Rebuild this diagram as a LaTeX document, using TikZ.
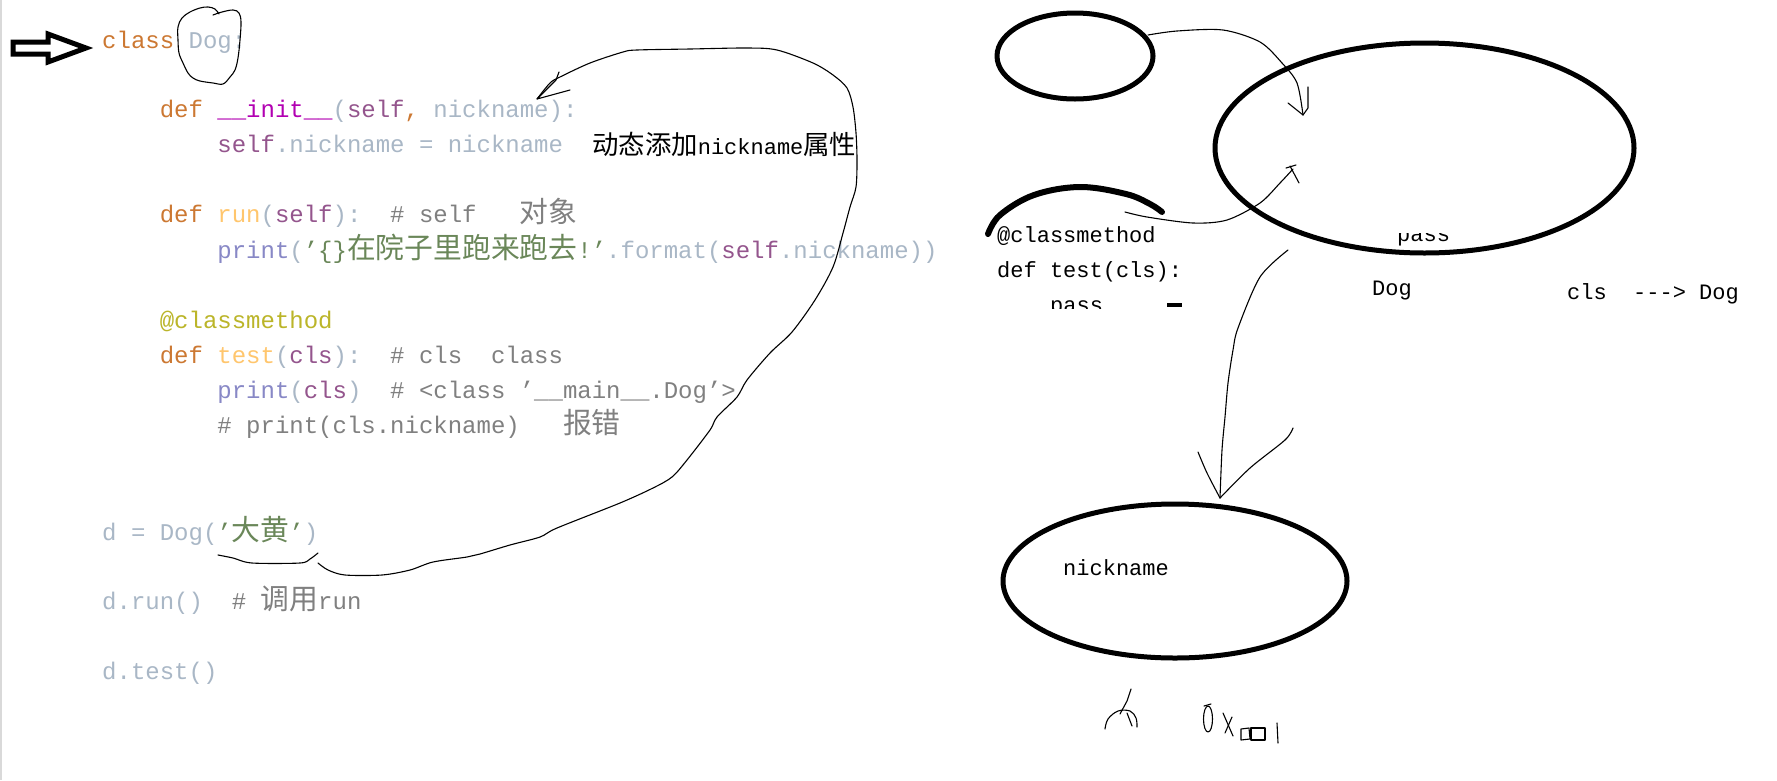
\documentclass[tikz,border=0pt]{standalone}
\usepackage{fontspec}
\usetikzlibrary{shapes.geometric}
\newfontfamily\monof[Ligatures=TeXOff]{Liberation Mono}
\newfontfamily\cjkf[Scale=1.2]{Noto Sans CJK SC}
\newcommand\zh[1]{{\cjkf #1}}
\definecolor{ckw}{HTML}{CC7832}
\definecolor{cfn}{HTML}{FFC66D}
\definecolor{cself}{HTML}{94558D}
\definecolor{cstr}{HTML}{6A8759}
\definecolor{ccom}{HTML}{808080}
\definecolor{cdec}{HTML}{BBB529}
\definecolor{cbi}{HTML}{8888C6}
\definecolor{cmag}{HTML}{B200B2}
\definecolor{ctxt}{HTML}{A9B7C6}
\newcommand\ckw[1]{\textcolor{ckw}{#1}}
\newcommand\cfn[1]{\textcolor{cfn}{#1}}
\newcommand\cself[1]{\textcolor{cself}{#1}}
\newcommand\cstr[1]{\textcolor{cstr}{#1}}
\newcommand\ccom[1]{\textcolor{ccom}{#1}}
\newcommand\cdec[1]{\textcolor{cdec}{#1}}
\newcommand\cbi[1]{\textcolor{cbi}{#1}}
\newcommand\cmag[1]{\textcolor{cmag}{#1}}
\begin{document}
\begin{tikzpicture}[x=1pt,y=-1pt,
  code/.style={anchor=base west, inner sep=0pt, font=\monof\fontsize{24}{28}\selectfont, text=ctxt},
  note/.style={anchor=base west, inner sep=0pt, font=\monof\fontsize{22}{26}\selectfont, text=black},
  oval/.style={draw, ellipse, line width=5pt, inner sep=0pt},
  pen/.style={line width=1.1pt, line cap=round, line join=round},
  hollow/.style={draw, line width=5pt, line join=miter, fill=white}]
\useasboundingbox (0,0) rectangle (1777,780);
\fill[white] (0,0) rectangle (1777,780);
\draw[black!15, line width=1.5pt] (0.75,0) -- (0.75,780);

% hollow arrow
\draw[hollow] (13,42) -- (48,42) -- (48,34) -- (86,48) -- (48,62) -- (48,54) -- (13,54) -- cycle;

% code
\node[code] (l1) at (102,48) {\ckw{class} Dog:};
\node[code] (l2) at (159.6,117) {\ckw{def} \cmag{\_\_init\_\_}(\cself{self}\ckw{,} nickname):};
\node[code] (l3) at (217.2,152) {\cself{self}.nickname = nickname};
\node[code] (l4) at (159.6,222) {\ckw{def} \cfn{run}(\cself{self}):~~\ccom{\#~self~~~\zh{对象}}};
\node[code] (l5) at (217.2,258) {\cbi{print}(\cstr{’\{\}\zh{在院子里跑来跑去}!’}.format(\cself{self}.nickname))};
\node[code] (l6) at (159.6,328) {\cdec{@classmethod}};
\node[code] (l7) at (159.6,363) {\ckw{def} \cfn{test}(\cself{cls}):~~\ccom{\#~cls~~class}};
\node[code] (l8) at (217.2,398) {\cbi{print}(\cself{cls})~~\ccom{\#~<class~’\_\_main\_\_.Dog’>}};
\node[code] (l9) at (217.2,433) {\ccom{\#~print(cls.nickname)~~~\zh{报错}}};
\node[code] (l10) at (102,540) {d = Dog(\cstr{’\zh{大黄}’})};
\node[code] (l11) at (102,609) {d.run()~~\ccom{\#~\zh{调用}run}};
\node[code] (l12) at (102,679) {d.test()};

\node[note] (ann) at (592,154) {\zh{动态添加}nickname\zh{属性}};

% blob around Dog
\draw[pen] plot[smooth, tension=0.6] coordinates {(213,15) (222,12) (233,10) (239,13) (241,22) (240,40) (238,58) (235,70) (230,77) (223,84) (213,83) (200,81) (193,78) (188,73) (183,63) (179,53) (178,40) (178,27) (182,18) (190,12) (200,8) (208,7) (215,9) (219,14)};

% underline under 大黄
\draw[pen] plot[smooth, tension=0.5] coordinates {(218,555) (233,558) (252,563) (300,563) (310,559) (318,553)};

% big curve back to nickname
\coordinate (bstart) at (318,563);
\coordinate (btip) at (537,99);
\draw[pen] plot[smooth, tension=0.5] coordinates {(bstart) (328,570) (345,575) (382,575) (410,570) (433,562) (467,557) (480,554) (510,545) (540,537) (557,528) (620,503) (653,488) (672,477) (687,460) (710,430) (717,417) (737,397) (747,380) (770,353) (792,332) (815,300) (833,267) (843,233) (850,207) (856,187) (857,160) (856,133) (853,107) (847,88) (833,75) (813,63) (777,50) (747,48) (690,49) (637,50) (623,52) (590,63) (560,77) (550,83) (btip)};
\draw[pen] (559,72) -- (556,80) -- (btip) -- (570,90);

% right side code snippet
\node[note] (rc1) at (997,242) {@classmethod};
\node[note] (rc2) at (997,277) {def test(cls):};
\begin{scope}
\clip (1040,280) rectangle (1120,308);
\node[note] (rc3) at (1050,312) {pass};
\end{scope}
\fill (1167,303) rectangle (1182,307);
\begin{scope}
\clip (1390,233) rectangle (1460,252);
\node[note] (rp) at (1397,241) {pass};
\end{scope}
\node[note] (dogl) at (1372,295) {Dog};
\node[note] (clsl) at (1567,299) {cls~~--->~Dog};

% ellipses
\node[oval, minimum width=156pt, minimum height=86pt] (small) at (1075,56) {};
\node[oval, minimum width=419pt, minimum height=210pt] (big) at (1424.5,148) {};
\node[oval, minimum width=344pt, minimum height=154pt] (bottom) at (1175,581) {};
\node[note, anchor=base west] (nick) at (1063,575) {nickname};

% partial arc
\draw[line width=6pt, line cap=round] plot[smooth, tension=0.6] coordinates {(988,234) (1000,215) (1034,195) (1080,187) (1126,194) (1150,204) (1162,212)};

% arrow small -> big
\coordinate (a1s) at (1148,35);
\coordinate (a1t) at (1303,115);
\draw[pen] plot[smooth, tension=0.5] coordinates {(a1s) (1177,31) (1223,30) (1260,42) (1282,63) (1297,83) (a1t)};
\draw[pen] (1288,103) -- (a1t) -- (1308,108) -- (1308,87);

% arrow from arc to big
\coordinate (a2s) at (1125,212);
\coordinate (a2t) at (1293,169);
\draw[pen] plot[smooth, tension=0.5] coordinates {(a2s) (1147,217) (1193,223) (1227,220) (1260,203) (1280,183) (a2t)};
\draw[pen] (1286,168) -- (1296,165);
\draw[pen] (1290,166) -- (1299,183);

% arrow big -> bottom
\coordinate (a3s) at (1288,250);
\coordinate (a3t) at (1220,498);
\draw[pen] plot[smooth, tension=0.5] coordinates {(a3s) (1260,277) (1238,328) (1233,350) (1228,383) (1225,417) (1222,450) (a3t)};
\draw[pen] plot[smooth, tension=0.5] coordinates {(1198,452) (1207,473) (a3t)};
\draw[pen] plot[smooth, tension=0.5] coordinates {(1293,428) (1285,440) (1250,468) (a3t)};

% handwriting "A"
\draw[pen] (1131,689) -- (1127,701) -- (1120,714);
\draw[pen] plot[smooth, tension=0.6] coordinates {(1105,729) (1108,719) (1118,711) (1130,711) (1136,718) (1137,727)};
\draw[pen] (1127,713) -- (1132,726);

% handwriting "0x001"
\draw[pen] (1208,719) ellipse [x radius=4.5pt, y radius=13pt];
\draw[pen] (1204,706) -- (1211,704);
\draw[pen] (1223,713) -- (1233,736);
\draw[pen] (1232,717) -- (1225,733);
\draw[pen] (1241,729) -- (1249,728) -- (1250,739) -- (1241,740) -- cycle;
\draw[pen] (1251,728) -- (1265,728) -- (1265,740) -- (1251,740) -- cycle;
\draw[pen] (1277,723) -- (1278,743);
\end{tikzpicture}
\end{document}
